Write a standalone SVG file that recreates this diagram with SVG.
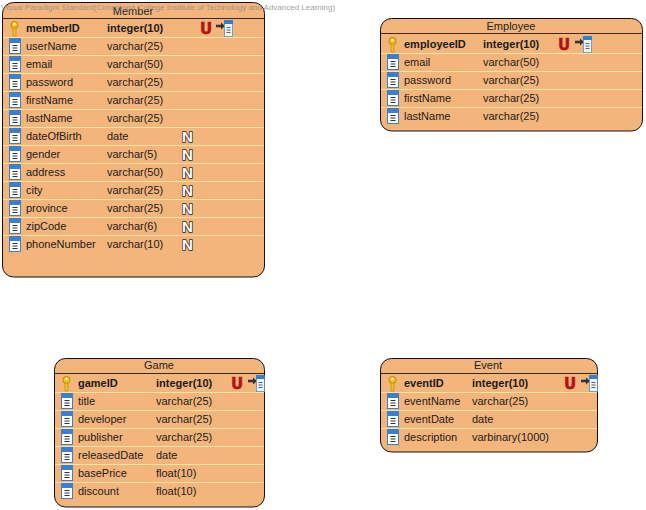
<svg xmlns="http://www.w3.org/2000/svg" width="646" height="510" viewBox="0 0 646 510">
<style>
text{font-family:"Liberation Sans",Arial,sans-serif;font-size:11px;fill:#1a1a1a}
.box{fill:#f4b57c;stroke:#111;stroke-width:1}
.hl{stroke:#3a2a1a;stroke-width:1}
.sep{stroke:#ffe4a0;stroke-width:1}
.t{text-anchor:middle;fill:#222}
.pk{font-weight:bold}
.wm{font-size:8px;fill:#8a8a8a;opacity:.8}
.u{font-size:15px;font-weight:bold;fill:#b51212;stroke:#b51212;stroke-width:.5;text-anchor:middle;font-family:"DejaVu Sans",sans-serif}
.n{font-size:15px;font-weight:bold;fill:#fff;stroke:#2a2a2a;stroke-width:1.5;paint-order:stroke;text-anchor:middle}
</style>
<defs>
<g id="col"><rect x=".5" y=".5" width="11" height="15" fill="#fff" stroke="#3f7fc0" stroke-width="1"/><rect x="0" y="0" width="12" height="5" fill="#3a7fd0"/><path d="M3.5 7.5h5M3.5 10h5M3.5 12.5h5" stroke="#234" stroke-width="1"/></g>
<g id="key"><circle cx="4.5" cy="4" r="3.6" fill="#f2c21a" stroke="#b98a0a" stroke-width="1"/><rect x="3" y="7" width="3" height="8" fill="#f2c21a" stroke="#b98a0a" stroke-width=".7"/><circle cx="4.5" cy="3" r="1.1" fill="#fff"/></g>
<g id="fk"><path d="M0 6h7" stroke="#333" stroke-width="2.6"/><path d="M5 2.5l4 3.5-4 3.5z" fill="#333"/><rect x="8.5" y=".5" width="8" height="16" fill="#eef2f6" stroke="#5a8fc0" stroke-width=".8"/><rect x="8" y="0" width="9" height="4" fill="#2f7fd0"/><path d="M10.5 7.5h4M10.5 10h4M10.5 12.5h4" stroke="#456" stroke-width=".9"/></g>
</defs>
<g id="connectors"></g>
<g id="member">
<rect class="box" x="2.5" y="2.5" width="262" height="274.5" rx="11"/>
<path class="hl" d="M3 18.5H264"/>
<path class="sep" d="M3 37.5H264M3 55.5H264M3 73.5H264M3 91.5H264M3 109.5H264M3 127.5H264M3 145.5H264M3 163.5H264M3 181.5H264M3 199.5H264M3 217.5H264M3 235.5H264"/>
<text class="t" x="133" y="15">Member</text>
<use href="#key" x="10" y="21"/><text class="pk" x="26" y="32">memberID</text><text class="pk" x="107" y="32">integer(10)</text><text class="u" x="206" y="34">U</text><use href="#fk" x="216" y="20"/>
<use href="#col" x="9" y="38"/><text x="26" y="50">userName</text><text x="107" y="50">varchar(25)</text>
<use href="#col" x="9" y="56"/><text x="26" y="68">email</text><text x="107" y="68">varchar(50)</text>
<use href="#col" x="9" y="74"/><text x="26" y="86">password</text><text x="107" y="86">varchar(25)</text>
<use href="#col" x="9" y="92"/><text x="26" y="104">firstName</text><text x="107" y="104">varchar(25)</text>
<use href="#col" x="9" y="110"/><text x="26" y="122">lastName</text><text x="107" y="122">varchar(25)</text>
<use href="#col" x="9" y="128"/><text x="26" y="140">dateOfBirth</text><text x="107" y="140">date</text><text class="n" x="187.5" y="141.5">N</text>
<use href="#col" x="9" y="146"/><text x="26" y="158">gender</text><text x="107" y="158">varchar(5)</text><text class="n" x="187.5" y="159.5">N</text>
<use href="#col" x="9" y="164"/><text x="26" y="176">address</text><text x="107" y="176">varchar(50)</text><text class="n" x="187.5" y="177.5">N</text>
<use href="#col" x="9" y="182"/><text x="26" y="194">city</text><text x="107" y="194">varchar(25)</text><text class="n" x="187.5" y="195.5">N</text>
<use href="#col" x="9" y="200"/><text x="26" y="212">province</text><text x="107" y="212">varchar(25)</text><text class="n" x="187.5" y="213.5">N</text>
<use href="#col" x="9" y="218"/><text x="26" y="230">zipCode</text><text x="107" y="230">varchar(6)</text><text class="n" x="187.5" y="231.5">N</text>
<use href="#col" x="9" y="236"/><text x="26" y="248">phoneNumber</text><text x="107" y="248">varchar(10)</text><text class="n" x="187.5" y="249.5">N</text>
</g>
<g id="employee">
<rect class="box" x="380.5" y="18.5" width="262" height="112.5" rx="11"/>
<path class="hl" d="M381 33.5H642"/>
<path class="sep" d="M381 53.5H642M381 71.5H642M381 89.5H642M381 107.5H642"/>
<text class="t" x="511" y="30">Employee</text>
<use href="#key" x="388" y="37"/><text class="pk" x="404" y="48">employeeID</text><text class="pk" x="483" y="48">integer(10)</text><text class="u" x="564" y="50">U</text><use href="#fk" x="575" y="36"/>
<use href="#col" x="387" y="54"/><text x="404" y="66">email</text><text x="483" y="66">varchar(50)</text>
<use href="#col" x="387" y="72"/><text x="404" y="84">password</text><text x="483" y="84">varchar(25)</text>
<use href="#col" x="387" y="90"/><text x="404" y="102">firstName</text><text x="483" y="102">varchar(25)</text>
<use href="#col" x="387" y="108"/><text x="404" y="120">lastName</text><text x="483" y="120">varchar(25)</text>
</g>
<g id="game">
<rect class="box" x="54.5" y="358.5" width="210" height="148.5" rx="11"/>
<path class="hl" d="M55 373.5H264"/>
<path class="sep" d="M55 392.5H264M55 410.5H264M55 428.5H264M55 446.5H264M55 464.5H264M55 482.5H264"/>
<text class="t" x="159" y="369">Game</text>
<use href="#key" x="62" y="376"/><text class="pk" x="78" y="387">gameID</text><text class="pk" x="156" y="387">integer(10)</text><text class="u" x="237" y="389">U</text><use href="#fk" x="248" y="375"/>
<use href="#col" x="61" y="393"/><text x="78" y="405">title</text><text x="156" y="405">varchar(25)</text>
<use href="#col" x="61" y="411"/><text x="78" y="423">developer</text><text x="156" y="423">varchar(25)</text>
<use href="#col" x="61" y="429"/><text x="78" y="441">publisher</text><text x="156" y="441">varchar(25)</text>
<use href="#col" x="61" y="447"/><text x="78" y="459">releasedDate</text><text x="156" y="459">date</text>
<use href="#col" x="61" y="465"/><text x="78" y="477">basePrice</text><text x="156" y="477">float(10)</text>
<use href="#col" x="61" y="483"/><text x="78" y="495">discount</text><text x="156" y="495">float(10)</text>
</g>
<g id="event">
<rect class="box" x="380.5" y="358.5" width="217" height="93.5" rx="11"/>
<path class="hl" d="M381 373.5H597"/>
<path class="sep" d="M381 392.5H597M381 410.5H597M381 428.5H597"/>
<text class="t" x="488" y="369">Event</text>
<use href="#key" x="388" y="376"/><text class="pk" x="404" y="387">eventID</text><text class="pk" x="472" y="387">integer(10)</text><text class="u" x="570" y="389">U</text><use href="#fk" x="581" y="375"/>
<use href="#col" x="387" y="393"/><text x="404" y="405">eventName</text><text x="472" y="405">varchar(25)</text>
<use href="#col" x="387" y="411"/><text x="404" y="423">eventDate</text><text x="472" y="423">date</text>
<use href="#col" x="387" y="429"/><text x="404" y="441">description</text><text x="472" y="441">varbinary(1000)</text>
</g>
<text class="wm" x="1" y="10">Visual Paradigm Standard(Conestoga College Institute of Technology and Advanced Learning)</text>
</svg>
